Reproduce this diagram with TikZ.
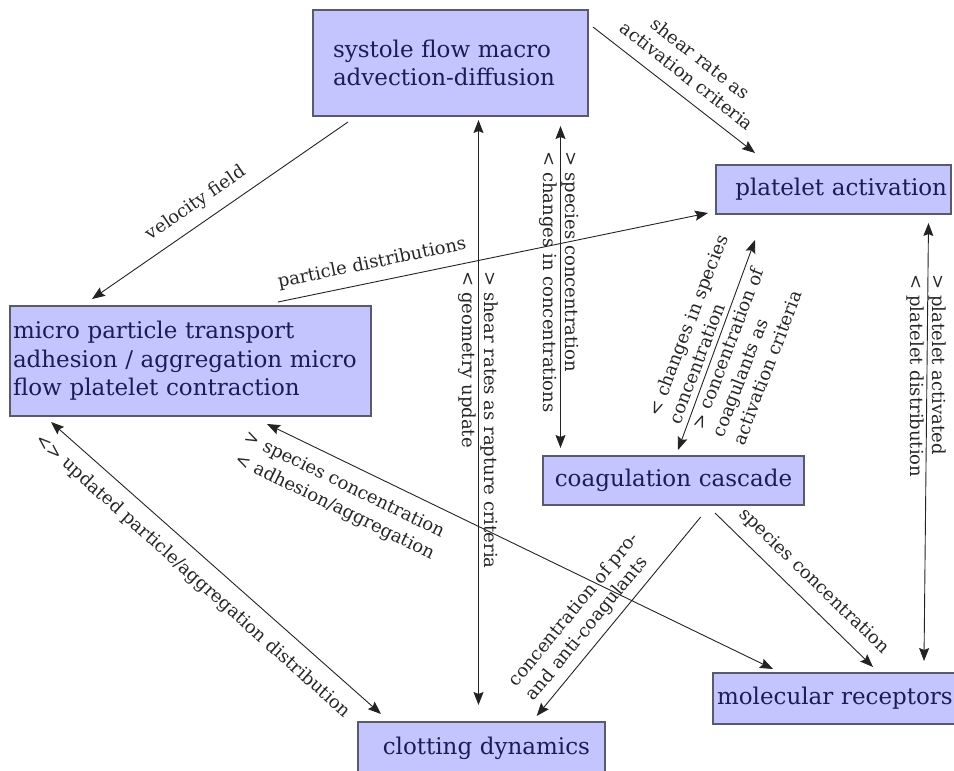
\documentclass[tikz,border=0pt]{standalone}
\usepackage{fontspec}
\setmainfont{DejaVu Serif}
\usetikzlibrary{arrows.meta,calc}
\definecolor{boxfill}{RGB}{196,196,255}
\definecolor{boxdraw}{RGB}{90,90,110}
\definecolor{boxtext}{RGB}{28,28,85}
\definecolor{edgecol}{RGB}{35,35,35}
\begin{document}
\begin{tikzpicture}[x=1pt,y=-1pt,
  box/.style={draw=boxdraw, line width=1.1pt, fill=boxfill, text=boxtext,
    font=\fontsize{23}{28.5}\selectfont, anchor=north west, inner ysep=0pt, outer sep=0pt},
  lbl/.style={font=\fontsize{18}{22}\selectfont, text=black!85, inner sep=0pt, align=left},
  conn/.style={draw=edgecol, line width=0.9pt},
  >={Stealth[length=13pt,width=10pt,inset=2pt]}]
\useasboundingbox (0,0) rectangle (954,771);

% boxes
\node[box, minimum width=275pt, minimum height=106pt, text width=235pt, inner xsep=20pt, align=left] (sys) at (313,10) {systole flow macro\\advection-diffusion};
\node[box, minimum width=235pt, minimum height=49pt, text width=227pt, inner xsep=4pt, align=right] (pla) at (716,165) {platelet activation};
\node[box, minimum width=361pt, minimum height=110pt, text width=355pt, inner xsep=3pt, align=left] (mic) at (10,306) {micro particle transport\\adhesion / aggregation micro\\flow platelet contraction};
\node[box, minimum width=261pt, minimum height=49pt, text width=261pt, inner xsep=0pt, align=center] (coa) at (543,456) {coagulation cascade};
\node[box, minimum width=246pt, minimum height=51pt, text width=238pt, inner xsep=4pt, align=left] (rec) at (713,673) {molecular receptors};
\node[box, minimum width=247pt, minimum height=53pt, text width=217pt, inner xsep=15pt, align=right] (clo) at (358,722) {clotting dynamics};

% connectors
\draw[conn,->] ($(sys.south west)+(35,6)$) -- ($(mic.north west)+(82,-7)$);
\draw[conn,->] ($(sys.north east)+(5,17)$) -- ($(pla.north west)+(39,-12)$);
\draw[conn,->] ($(mic.north west)+(268,-4)$) -- ($(pla.south west)+(-8,-1)$);
\draw[conn,<->] ($(sys.south west)+(165.5,4)$) -- ($(clo.north west)+(120.5,-17)$);
\draw[conn,<->] ($(sys.south west)+(247.5,10)$) -- ($(coa.north west)+(17.5,-8)$);
\draw[conn,<->] ($(coa.north west)+(135,-6)$) -- ($(pla.south west)+(39,26)$);
\draw[conn,<->] ($(pla.south east)+(-22.5,9)$) -- ($(rec.north west)+(211,-12)$);
\draw[conn,<->] ($(mic.south west)+(41,6)$) -- ($(clo.north west)+(23,-8)$);
\draw[conn,<->] ($(mic.south west)+(257,8)$) -- ($(rec.north west)+(60,-4)$);
\draw[conn,->] ($(coa.south west)+(157.7,12)$) -- ($(clo.north west)+(178.7,-6)$);
\draw[conn,->] ($(coa.south west)+(172,8)$) -- ($(rec.north west)+(160,-6)$);

% labels
\node[lbl, rotate=34.7] (lvf) at (196,203.5) {velocity field};
\node[lbl, rotate=-38, align=center] (lsh) at (694,67) {shear rate as\\activation criteria};
\node[lbl, rotate=11.7] (lpd) at (372,263.5) {particle distributions};
\node[lbl, rotate=-90] (lsr) at (478.5,420) {> shear rates as rapture criteria\\< geometry update};
\node[lbl, rotate=-90] (lsc) at (559.5,282) {> species concentration\\< changes in concentrations};
\node[lbl, rotate=69] (lcs) at (698,329) {< changes in species\\concentration};
\node[lbl, rotate=69] (lcc) at (748,356) {> concentration of\\coagulants as\\activation criteria};
\node[lbl, rotate=-90] (lpa) at (926,376) {> platelet activated\\< platelet distribution};
\node[lbl, rotate=-41.8] (lup) at (192.5,576) {<> updated particle/aggregation distribution};
\node[lbl, rotate=-26] (ls1) at (344,485) {> species concentration};
\node[lbl, rotate=-26] (ls2) at (334.5,507) {< adhesion/aggregation};
\node[lbl, rotate=50.5] (lpro) at (583,617) {concentration of pro-\\and anti-coagulants};
\node[lbl, rotate=-44] (lsp) at (814,581.5) {species concentration};
\end{tikzpicture}
\end{document}
